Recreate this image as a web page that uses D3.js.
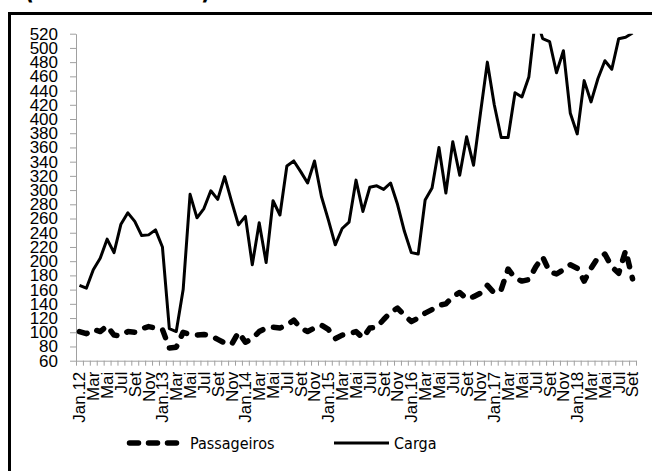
<!DOCTYPE html>
<html><head><meta charset="utf-8">
<script src="https://cdn.jsdelivr.net/npm/d3@7"></script>
<style>
html,body{margin:0;padding:0;background:#fff;}
svg{display:block;font-family:"DejaVu Sans Condensed","DejaVu Sans",sans-serif;font-stretch:condensed;}
</style></head>
<body><svg id="c" width="652" height="471"></svg>
<script>
const months = ["Jan","Fev","Mar","Abr","Mai","Jun","Jul","Ago","Set","Out","Nov","Dez"];
const years = ["12","13","14","15","16","17","18"];
const categories = [];
years.forEach(y => months.forEach((m,i) => categories.push(i===0 ? m+"."+y : m)));
categories.length = 81; // Jan.12 .. Set.18

const passageiros = [101,98,104,101,109,96,95,101,100,105,108,106,
  104,78,79,100,97,96,97,95,90,85,83,100,
  86,91,101,106,107,106,110,117,106,101,106,110,
  104,91,96,98,101,92,106,107,118,128,134,124,
  115,120,127,132,138,140,150,156,147,150,155,166,
  155,160,189,176,172,174,192,206,185,182,188,195,
  190,172,190,205,210,192,183,215,175];
const carga = [166,162,188,204,231,212,252,268,256,236,237,244,
  220,105,101,160,294,261,274,299,287,319,284,251,
  263,195,254,198,285,265,334,341,326,310,341,291,
  258,223,246,255,314,270,304,306,301,310,280,242,
  212,210,286,303,360,296,368,321,375,335,408,480,
  420,374,374,437,431,459,545,513,509,465,496,408,
  379,454,424,457,482,470,513,515,521];
const yTicks = d3.range(60, 521, 20);
const title = "(mil toneladas)";

const svg = d3.select("#c");
const L = 76, R = 636, T = 33.7, B = 360.7;
const x = d3.scaleBand().domain(d3.range(categories.length)).range([L, R]);
const xb = d3.scaleLinear().domain([0, categories.length]).range([L, R]);
const y = d3.scaleLinear().domain([60, 520]).range([B, T]);
const cx = i => x(i) + x.bandwidth()/2;

// title (mostly cut off at the top edge)
svg.append("text").attr("x", 24).attr("y", -1.5).attr("font-size", 28).attr("font-weight", "bold")
  .attr("textLength", 187).attr("lengthAdjust", "spacingAndGlyphs").text(title);

// outer frame
svg.append("rect").attr("x", 9.5).attr("y", 13.5).attr("width", 700).attr("height", 500)
  .attr("fill", "none").attr("stroke", "#000").attr("stroke-width", 3);

const grey = "#a0a0a0";
// y axis
const ya = svg.append("g").attr("transform", `translate(${L},0)`)
  .call(d3.axisLeft(y).tickValues(yTicks).tickSize(6).tickPadding(12).tickSizeOuter(0));
ya.select(".domain").attr("stroke", grey);
ya.selectAll(".tick line").attr("stroke", grey);
ya.selectAll("text").attr("font-size", 17).attr("fill", "#000").attr("font-family", null);

// x axis ticks at category boundaries
const xa = svg.append("g").attr("transform", `translate(0,${B})`)
  .call(d3.axisBottom(xb).tickValues(d3.range(categories.length + 1)).tickFormat("").tickSize(5).tickSizeOuter(0));
xa.select(".domain").attr("stroke", grey);
xa.selectAll(".tick line").attr("stroke", grey);

// x labels (every second month)
const xl = svg.append("g").attr("transform", `translate(0,${B})`)
  .call(d3.axisBottom(x).tickValues(d3.range(0, categories.length, 2)).tickFormat(i => categories[i]).tickSize(0));
xl.select(".domain").remove();
xl.selectAll("text").attr("font-size", 17).attr("fill", "#000").attr("font-family", null)
  .attr("transform", "rotate(-90)").attr("text-anchor", "end")
  .attr("x", -11).attr("y", 0).attr("dy", "0.35em");

// clip
svg.append("clipPath").attr("id", "pc").append("rect")
  .attr("x", L).attr("y", T).attr("width", R - L).attr("height", B - T);
const plot = svg.append("g").attr("clip-path", "url(#pc)");

const line = d3.line().x((d,i) => cx(i)).y(d => y(d));
plot.append("path").datum(carga).attr("d", line).attr("fill", "none")
  .attr("stroke", "#000").attr("stroke-width", 3).attr("stroke-linejoin", "round");
plot.append("path").datum(passageiros).attr("d", line).attr("fill", "none")
  .attr("stroke", "#000").attr("stroke-width", 5.5).attr("stroke-linecap", "round")
  .attr("stroke-linejoin", "round").attr("stroke-dasharray", "8,11");

// legend
const ly = 443;
const lg = svg.append("g");
lg.append("line").attr("x1", 129.5).attr("x2", 178).attr("y1", ly).attr("y2", ly)
  .attr("stroke", "#000").attr("stroke-width", 5.5).attr("stroke-linecap", "round").attr("stroke-dasharray", "9,10");
lg.append("text").attr("x", 190).attr("y", ly).attr("dy", "0.35em").attr("font-size", 16).text("Passageiros");
lg.append("line").attr("x1", 334).attr("x2", 389).attr("y1", ly).attr("y2", ly)
  .attr("stroke", "#000").attr("stroke-width", 3);
lg.append("text").attr("x", 394).attr("y", ly).attr("dy", "0.35em").attr("font-size", 16).text("Carga");
</script></body></html>
